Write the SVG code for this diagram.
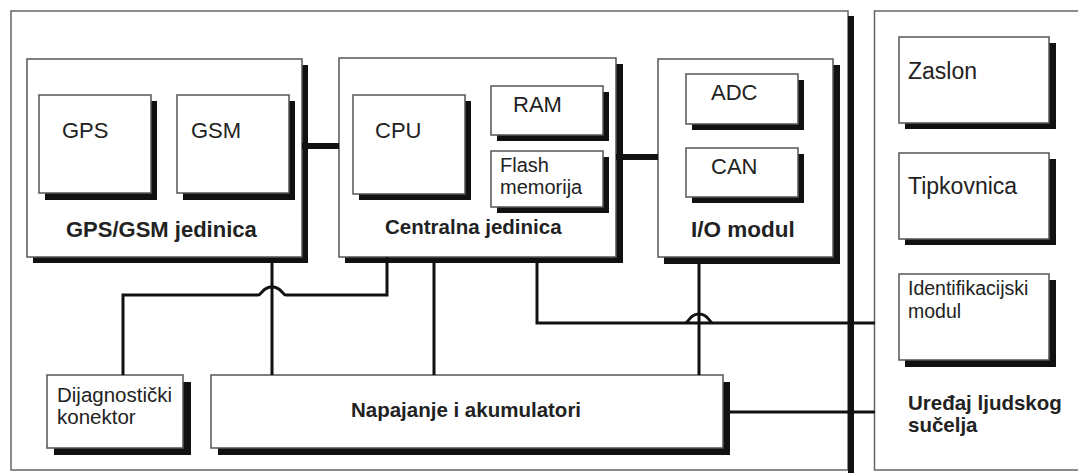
<svg xmlns="http://www.w3.org/2000/svg" width="1078" height="473" viewBox="0 0 1078 473">
<style>
.frame{fill:#fff;stroke:#666;stroke-width:1.5}
.box{fill:#fff;stroke:#555;stroke-width:1.5}
.sh{fill:#111}
.t{font-family:"Liberation Sans",Arial,Helvetica,sans-serif;fill:#222;font-size:22px}
.s{font-size:20px}
.b{font-weight:bold;font-size:21px}
.wire{fill:none;stroke:#111;stroke-width:3}
.bus{fill:none;stroke:#111;stroke-width:6}
</style>
<rect width="1078" height="473" fill="#fff"/>
<g id="vehicle-unit">
<rect class="frame" x="11" y="11" width="837" height="459"/>
<rect class="sh" x="848" y="16" width="6" height="457"/>
</g>
<g id="hmi-frame">
<rect class="frame" x="874.5" y="11" width="210" height="459"/>
</g>
<g id="gps-gsm-unit">
<rect class="sh" x="33" y="65" width="275" height="198"/>
<rect class="box" x="27" y="59" width="275" height="198"/>
<text class="t b" x="66" y="237" style="font-size:22px">GPS/GSM jedinica</text>
</g>
<g id="gps">
<rect class="sh" x="45" y="101" width="112" height="99"/>
<rect class="box" x="39" y="95" width="112" height="98"/>
<text class="t" x="62" y="138">GPS</text>
</g>
<g id="gsm">
<rect class="sh" x="183" y="101" width="112" height="99"/>
<rect class="box" x="177" y="95" width="112" height="98"/>
<text class="t" x="191" y="138">GSM</text>
</g>
<g id="central-unit">
<rect class="sh" x="345" y="64" width="278" height="199"/>
<rect class="box" x="339" y="58" width="277" height="199"/>
<text class="t b" x="385" y="234" style="font-size:20.5px">Centralna jedinica</text>
</g>
<g id="cpu">
<rect class="sh" x="359" y="101" width="112" height="99"/>
<rect class="box" x="353" y="95" width="112" height="99"/>
<text class="t" x="375" y="138">CPU</text>
</g>
<g id="ram">
<rect class="sh" x="497" y="92" width="112" height="49"/>
<rect class="box" x="491" y="86" width="112" height="49"/>
<text class="t" x="513" y="112">RAM</text>
</g>
<g id="flash">
<rect class="sh" x="497" y="157" width="112" height="56"/>
<rect class="box" x="491" y="151" width="112" height="56"/>
<text class="t s" x="500" y="172">Flash</text>
<text class="t s" x="500" y="194">memorija</text>
</g>
<g id="io-module">
<rect class="sh" x="664" y="65" width="176" height="199"/>
<rect class="box" x="658" y="59" width="175" height="198"/>
<text class="t b" x="691" y="237" style="font-size:22.5px">I/O modul</text>
</g>
<g id="adc">
<rect class="sh" x="692" y="80" width="112" height="50"/>
<rect class="box" x="686" y="74" width="112" height="50"/>
<text class="t" x="711" y="100">ADC</text>
</g>
<g id="can">
<rect class="sh" x="692" y="154" width="112" height="49"/>
<rect class="box" x="686" y="148" width="112" height="49"/>
<text class="t" x="711" y="174">CAN</text>
</g>
<g id="diag-connector">
<rect class="sh" x="54" y="382" width="137" height="73"/>
<rect class="box" x="47" y="375" width="136" height="73"/>
<text class="t s" x="57" y="402" style="font-size:20.5px">Dijagnostički</text>
<text class="t s" x="57" y="424" style="font-size:20.5px">konektor</text>
</g>
<g id="power">
<rect class="sh" x="218" y="382" width="512" height="73"/>
<rect class="box" x="211" y="375" width="512" height="73"/>
<text class="t b" x="466" y="417" text-anchor="middle" style="font-size:20.5px">Napajanje i akumulatori</text>
</g>
<g id="display">
<rect class="sh" x="905" y="43" width="151" height="86"/>
<rect class="box" x="899" y="37" width="150" height="86"/>
<text class="t" x="908" y="79" style="font-size:23px">Zaslon</text>
</g>
<g id="keyboard">
<rect class="sh" x="905" y="159" width="151" height="86"/>
<rect class="box" x="899" y="153" width="150" height="86"/>
<text class="t" x="908" y="194" style="font-size:23px">Tipkovnica</text>
</g>
<g id="id-module">
<rect class="sh" x="905" y="280" width="151" height="87"/>
<rect class="box" x="899" y="274" width="150" height="86"/>
<text class="t s" x="908" y="295" style="font-size:19.5px">Identifikacijski</text>
<text class="t s" x="908" y="318" style="font-size:19.5px">modul</text>
</g>
<g id="hmi-label">
<text class="t b" x="908" y="410" style="font-size:20.5px">Uređaj ljudskog</text>
<text class="t b" x="908" y="432" style="font-size:20.5px">sučelja</text>
</g>
<g id="connectors">
<path class="bus" d="M302 146 H339"/>
<path class="bus" d="M616 157 H658"/>
<path class="wire" d="M272 263 V375"/>
<path class="wire" d="M387 257 V295 H286 C282 295 282 287 272 287 C262 287 262 295 258 295 H123 V375"/>
<path class="wire" d="M434 263 V375"/>
<path class="wire" d="M537 263 V323 H713 C709 323 709 314 699 314 C689 314 689 323 685 323"/>
<path class="wire" d="M713 323 H875"/>
<path class="wire" d="M699 264 V375"/>
<path class="wire" d="M730 412 H875"/>
</g>
</svg>
